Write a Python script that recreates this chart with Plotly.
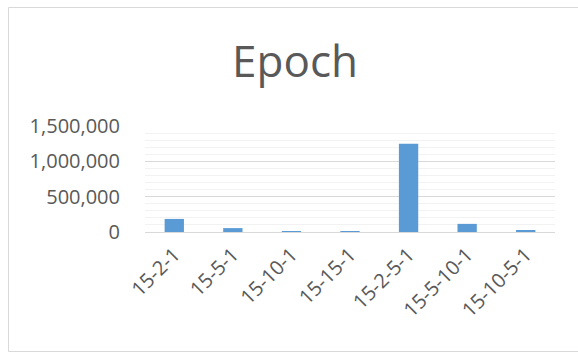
import plotly.graph_objects as go

categories = ["15-2-1", "15-5-1", "15-10-1", "15-15-1", "15-2-5-1", "15-5-10-1", "15-10-5-1"]
epoch_values = [185000, 55000, 5000, 8000, 1250000, 115000, 25000]
tick_values = [0, 500000, 1000000, 1500000]
tick_labels = ["0", "500,000", "1,000,000", "1,500,000"]

W, H = 578, 354
L, R, T, B = 145, 23, 126, 122
pw, ph = W - L - R, H - T - B

def px_x(x):
    return (x - L) / pw

def px_y(y):
    return (H - B - y) / ph

FONT = "Open Sans"
GRAY = "#595959"

fig = go.Figure()
fig.add_trace(go.Bar(
    x=categories, y=epoch_values,
    marker=dict(color="#5B9BD5", line=dict(width=0)),
))

fig.update_layout(
    width=W, height=H,
    margin=dict(l=L, r=R, t=T, b=B, pad=0),
    paper_bgcolor="white", plot_bgcolor="white",
    bargap=0.67,
    showlegend=False,
    font=dict(family=FONT, color=GRAY),
    title=dict(
        text="Epoch", x=295 / W, xanchor="center",
        y=1 - 62 / H, yanchor="middle", yref="container",
        font=dict(family=FONT, size=44, color=GRAY),
    ),
    xaxis=dict(
        type="category",
        tickangle=-45, tickfont=dict(size=20, color=GRAY),
        showgrid=False, showline=True, linecolor="#d9d9d9", linewidth=1,
        ticks="", ticklen=0, ticklabelstandoff=2,
    ),
    yaxis=dict(
        range=[0, 1500000], tickvals=tick_values, ticktext=tick_labels,
        tickfont=dict(size=20, color=GRAY),
        showgrid=True, gridcolor="#d9d9d9", gridwidth=1,
        zeroline=True, zerolinecolor="#d9d9d9", zerolinewidth=1,
        showline=False, ticks="", ticklabelstandoff=24,
        minor=dict(dtick=100000, tick0=0, showgrid=True, gridcolor="#f2f2f2", gridwidth=1),
    ),
    shapes=[dict(
        type="rect", xref="paper", yref="paper",
        x0=px_x(8.5), x1=px_x(595), y0=px_y(7.5), y1=px_y(351.5),
        line=dict(color="#d9d9d9", width=1), fillcolor="rgba(0,0,0,0)", layer="below",
    )],
)

fig.write_html("out.html")
